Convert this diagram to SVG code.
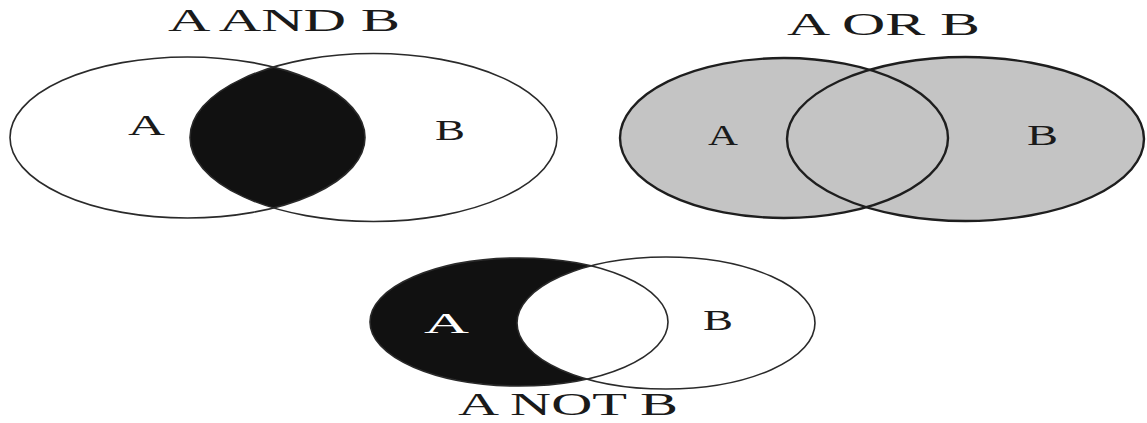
<svg xmlns="http://www.w3.org/2000/svg" width="1147" height="423" viewBox="0 0 1147 423">
<style>
.t{font-family:"Liberation Serif","Times New Roman",serif;fill:#1a1a1a}
.title{font-size:32px}
.lbl{font-size:30px}
.thin{fill:none;stroke:#2a2a2a;stroke-width:1.6}
.thick{fill:none;stroke:#1e1e1e;stroke-width:2.4}
</style>
<defs>
<clipPath id="clipB1"><ellipse cx="373.5" cy="137.5" rx="183.5" ry="84"/></clipPath>
</defs>
<rect width="1147" height="423" fill="#ffffff"/>
<g id="and">
<ellipse cx="187.5" cy="137.5" rx="177.5" ry="80.5" fill="#111" clip-path="url(#clipB1)"/>
<ellipse class="thin" cx="187.5" cy="137.5" rx="177.5" ry="80.5"/>
<ellipse class="thin" cx="373.5" cy="137.5" rx="183.5" ry="84"/>
<text class="t title" x="168" y="31" textLength="232" lengthAdjust="spacingAndGlyphs">A AND B</text>
<text class="t lbl" x="128" y="135" textLength="37" lengthAdjust="spacingAndGlyphs">A</text>
<text class="t lbl" x="435" y="140" textLength="30" lengthAdjust="spacingAndGlyphs">B</text>
</g>
<g id="or">
<ellipse cx="784" cy="138" rx="164" ry="80" fill="#c4c4c4"/>
<ellipse cx="965.5" cy="139" rx="178.5" ry="82" fill="#c4c4c4"/>
<ellipse class="thick" cx="784" cy="138" rx="164" ry="80"/>
<ellipse class="thick" cx="965.5" cy="139" rx="178.5" ry="82"/>
<text class="t title" x="787" y="35" textLength="193" lengthAdjust="spacingAndGlyphs">A OR B</text>
<text class="t lbl" x="708" y="145" textLength="30" lengthAdjust="spacingAndGlyphs">A</text>
<text class="t lbl" x="1027" y="145" textLength="31" lengthAdjust="spacingAndGlyphs">B</text>
</g>
<g id="not">
<ellipse cx="519" cy="322" rx="149" ry="64" fill="#111"/>
<ellipse cx="666" cy="323" rx="149" ry="66" fill="#fff"/>
<ellipse class="thin" cx="519" cy="322" rx="149" ry="64"/>
<ellipse class="thin" cx="666" cy="323" rx="149" ry="66"/>
<text class="t lbl" x="424" y="333" textLength="45" lengthAdjust="spacingAndGlyphs" style="fill:#fff">A</text>
<text class="t lbl" x="703" y="330" textLength="30" lengthAdjust="spacingAndGlyphs">B</text>
<text class="t title" x="458" y="415" textLength="220" lengthAdjust="spacingAndGlyphs">A NOT B</text>
</g>
</svg>
